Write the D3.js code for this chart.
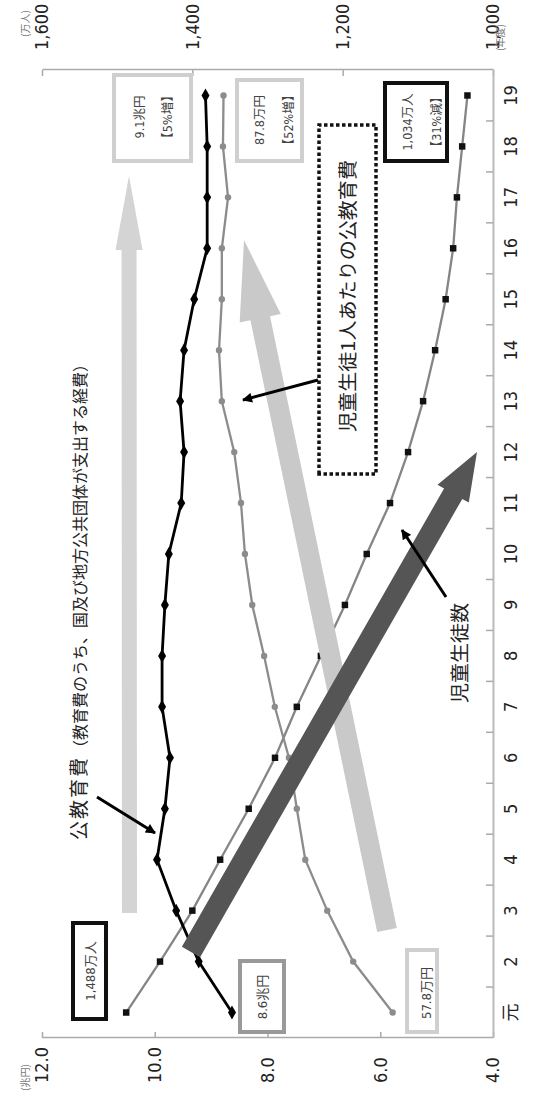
<!DOCTYPE html>
<html><head><meta charset="utf-8">
<script src="https://cdn.jsdelivr.net/npm/d3@7"></script>
<style>body{margin:0;background:#fff}svg{display:block}</style>
</head><body><svg id="c" width="545" height="1107"></svg>
<script>
// ---------- data ----------
const years = ["元","2","3","4","5","6","7","8","9","10","11","12","13","14","15","16","17","18","19"];
const publicSpending = [8.63,9.22,9.62,9.96,9.82,9.73,9.87,9.87,9.82,9.75,9.53,9.48,9.55,9.48,9.30,9.07,9.07,9.07,9.1]; // 兆円
const perStudent = [57.8,64.8,69.4,73.3,74.8,76.2,78.7,80.6,82.7,84.0,84.7,85.9,88.1,88.6,88.1,88.1,87.0,87.9,87.8]; // 万円
const students = [1488,1443,1400,1363,1325,1290,1261,1229,1197,1168,1137,1113,1093,1077,1063,1053,1048,1041,1034]; // 万人
const leftTicks = [4,6,8,10,12];
const rightTicks = [1000,1200,1400,1600];

// ---------- setup (chart drawn in landscape, then rotated -90°) ----------
const W = 1107, H = 545;
const NARROW = "'Liberation Sans Narrow','Arial Narrow','DejaVu Sans Condensed','Liberation Sans','Noto Sans CJK JP',sans-serif";
const JP = "'Noto Sans CJK JP','Noto Sans',sans-serif";
const svg = d3.select("#c");
const g = svg.append("g").attr("transform", `translate(0,${W}) rotate(-90)`);
const P = (ix, iy) => [W - iy, ix]; // picture coords -> landscape coords

const plot = {left: 69, right: 1037, top: 42, bottom: 493};
const x = d3.scaleBand().domain(years).range([plot.left, plot.right]).padding(0);
const bw = x.bandwidth();
const cx = d => x(d) + bw / 2;
const yL = d3.scaleLinear().domain([4, 12]).range([plot.bottom, plot.top]);
const yR = d3.scaleLinear().domain([1000, 1600]).range([plot.bottom, plot.top]);

const AX = "#aaa";
// left axis (兆円)
const gL = g.append("g").attr("transform", `translate(${plot.left},0)`)
  .call(d3.axisLeft(yL).tickValues(leftTicks).tickFormat(d3.format(".1f")).tickSizeInner(-6).tickSizeOuter(0));
gL.select(".domain").attr("stroke", AX).attr("stroke-width", 1.5);
gL.selectAll(".tick line").attr("stroke", AX).attr("stroke-width", 1.5);
gL.selectAll("text").attr("x", 24 - plot.left).attr("text-anchor", "start")
  .style("font-family", NARROW).style("font-size", "18px").attr("fill", "#222");
// right axis (万人)
const gR = g.append("g").attr("transform", `translate(${plot.right},0)`)
  .call(d3.axisRight(yR).tickValues(rightTicks).tickFormat(d3.format(",")).tickSizeInner(-6).tickSizeOuter(0));
gR.select(".domain").attr("stroke", AX).attr("stroke-width", 1.5);
gR.selectAll(".tick line").attr("stroke", AX).attr("stroke-width", 1.5);
gR.selectAll("text").attr("x", 20).attr("text-anchor", "start")
  .style("font-family", NARROW).style("font-size", "18px").attr("fill", "#222");
// category axis (年度)
const gX = g.append("g").attr("transform", `translate(0,${plot.bottom})`)
  .call(d3.axisBottom(x).tickSize(0).tickSizeOuter(0));
gX.select(".domain").attr("stroke", "#bbb").attr("stroke-width", 2);
gX.selectAll("text").attr("y", 11).style("font-family", NARROW).style("font-size", "18px").attr("fill", "#222");
gX.selectAll(".sep").data(years.slice(1)).join("line").attr("class", "sep")
  .attr("x1", d => x(d)).attr("x2", d => x(d)).attr("y1", 0).attr("y2", -7)
  .attr("stroke", AX).attr("stroke-width", 1.5);

// unit labels
const unit = (t, ox, oy) => g.append("text").attr("x", ox).attr("y", oy).attr("text-anchor", "start")
  .attr("dy", "0.35em").style("font-family", JP).style("font-size", "10px").attr("fill", "#777").text(t);
unit("(兆円)", 16, 25);
unit("(万人)", 1070, 25);
unit("(年度)", 1056, 500);

// ---------- series ----------
const mk = (arr, f) => years.map((yr, i) => ({year: yr, v: f(arr[i])}));
const sSpend = mk(publicSpending, v => yL(v));
const sPer = mk(perStudent, v => yL(v / 10));
const sStu = mk(students, v => yR(v));
const line = d3.line().x(d => cx(d.year)).y(d => d.v);

g.append("path").datum(sStu).attr("d", line).attr("fill", "none").attr("stroke", "#858585").attr("stroke-width", 2.3);
g.selectAll(".sq").data(sStu).join("path").attr("class", "sq")
  .attr("d", d3.symbol().type(d3.symbolSquare).size(42))
  .attr("transform", d => `translate(${cx(d.year)},${d.v})`).attr("fill", "#111");

g.append("path").datum(sPer).attr("d", line).attr("fill", "none").attr("stroke", "#8c8c8c").attr("stroke-width", 2.3);
g.selectAll(".ci").data(sPer).join("circle").attr("class", "ci")
  .attr("cx", d => cx(d.year)).attr("cy", d => d.v).attr("r", 3.2).attr("fill", "#8c8c8c");

g.append("path").datum(sSpend).attr("d", line).attr("fill", "none").attr("stroke", "#000").attr("stroke-width", 2.8);
g.selectAll(".di").data(sSpend).join("path").attr("class", "di")
  .attr("d", d3.symbol().type(d3.symbolDiamond).size(55))
  .attr("transform", d => `translate(${cx(d.year)},${d.v}) rotate(90)`).attr("fill", "#000");

// ---------- big block arrows ----------
function arrowPts(a, b, sw, hw, hl) {
  const dx = b[0] - a[0], dy = b[1] - a[1], L = Math.hypot(dx, dy), ux = dx / L, uy = dy / L, px = -uy, py = ux;
  const bx = b[0] - ux * hl, by = b[1] - uy * hl;
  return [[a[0] + px * sw / 2, a[1] + py * sw / 2], [bx + px * sw / 2, by + py * sw / 2], [bx + px * hw / 2, by + py * hw / 2],
          b, [bx - px * hw / 2, by - py * hw / 2], [bx - px * sw / 2, by - py * sw / 2], [a[0] - px * sw / 2, a[1] - py * sw / 2]];
}
const blk = (a, b, sw, hw, hl, col) => g.append("polygon")
  .attr("points", arrowPts(P(...a), P(...b), sw, hw, hl).map(p => p.join(",")).join(" ")).attr("fill", col);
blk([129.5, 913], [129, 176], 15, 27, 74, "#d4d4d4");
blk([387, 930], [244, 240], 20, 42, 80, "#c9c9c9");
blk([191, 952], [477, 452], 21, 36, 48, "#555555");

// ---------- boxes ----------
function box(ix0, ix1, iy0, iy1, col, sw, dash) {
  const a = P(ix0, iy1), b = P(ix1, iy0);
  const r = g.append("rect").attr("x", a[0]).attr("y", a[1]).attr("width", b[0] - a[0]).attr("height", b[1] - a[1])
    .attr("fill", "#fff").attr("stroke", col).attr("stroke-width", sw);
  if (dash) r.attr("stroke-dasharray", dash);
}
function txt(t, ix, iy, size, fam, opts) {
  const p = P(ix, iy);
  const e = g.append("text").attr("x", p[0]).attr("y", p[1]).attr("dy", "0.35em").attr("text-anchor", (opts && opts.anchor) || "middle")
    .style("font-family", fam).style("font-size", size + "px").attr("fill", (opts && opts.fill) || "#444").text(t);
  if (opts && opts.len) e.attr("textLength", opts.len).attr("lengthAdjust", "spacingAndGlyphs");
  return e;
}
box(114, 191, 75, 161, "#cfcfcf", 4);
txt("9.1兆円", 140, 117, 12.5, NARROW); txt("【5%増】", 168, 117, 12.5, NARROW);
box(237, 302, 80, 161, "#cfcfcf", 4);
txt("87.8万円", 260, 120, 12.5, NARROW); txt("【52%増】", 289, 120, 12.5, NARROW);
box(385, 447, 83, 161, "#111", 4);
txt("1,034万人", 408, 122, 12.5, NARROW); txt("【31%減】", 437, 122, 12.5, NARROW);
box(73, 106, 923, 1019, "#111", 4);
txt("1,488万人", 90, 971, 13, NARROW);
box(240, 284, 961, 1032, "#999", 4);
txt("8.6兆円", 262, 997, 13, NARROW);
box(407, 437, 950, 1032, "#cfcfcf", 4);
txt("57.8万円", 426, 993, 13, NARROW);

box(319, 376, 125, 474, "#111", 3.5, "3.5,2.5");
txt("児童生徒1人あたりの公教育費", 348, 296, 19, JP, {len: 272, fill: "#222"});

// long label
{
  const p = P(86, 840);
  const t = g.append("text").attr("x", p[0]).attr("y", p[1]).style("font-family", JP).attr("fill", "#222");
  t.append("tspan").style("font-size", "19px").attr("letter-spacing", "2px").text("公教育費");
  t.append("tspan").style("font-size", "16px").text("（教育費のうち、国及び地方公共団体が支出する経費）");
}
txt("児童生徒数", 460, 653, 19, JP, {len: 100, fill: "#222"});

// ---------- pointer arrows ----------
const defs = svg.append("defs");
defs.append("marker").attr("id", "ah").attr("viewBox", "0 0 10 10").attr("refX", 9).attr("refY", 5)
  .attr("markerWidth", 12).attr("markerHeight", 10).attr("markerUnits", "userSpaceOnUse").attr("orient", "auto")
  .append("path").attr("d", "M0,0L10,5L0,10z").attr("fill", "#000");
const ptr = (a, b) => { const A = P(...a), B = P(...b);
  g.append("line").attr("x1", A[0]).attr("y1", A[1]).attr("x2", B[0]).attr("y2", B[1])
    .attr("stroke", "#000").attr("stroke-width", 3).attr("marker-end", "url(#ah)"); };
ptr([318, 380], [243, 400]);
ptr([97, 797], [155, 833]);
ptr([446, 597], [402, 530]);
</script></body></html>
